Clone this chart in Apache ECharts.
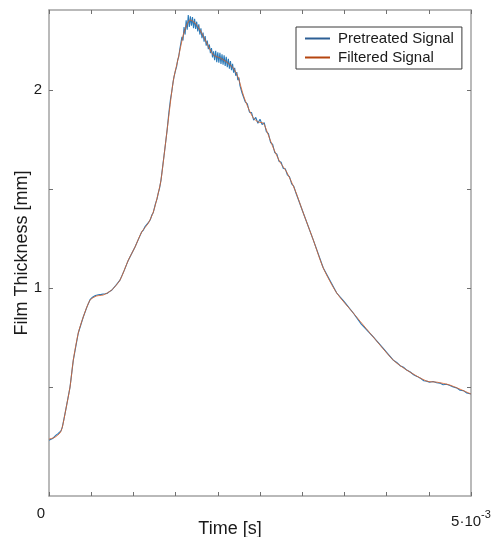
<!DOCTYPE html>
<html>
<head>
<meta charset="utf-8">
<script src="https://cdn.jsdelivr.net/npm/echarts@6/dist/echarts.min.js"></script>
<style>
  html, body { margin: 0; padding: 0; background: #ffffff; }
  #chart { width: 496px; height: 537px; }
</style>
</head>
<body>
<div id="chart"></div>
<script>
// Time axis in milliseconds (converted to seconds when plotted)
var filteredTimeMs = [
  0.000, 0.071, 0.130, 0.158, 0.198, 0.249, 0.288, 0.347, 0.406, 0.486,
  0.565, 0.643, 0.743, 0.841, 0.940, 1.019, 1.098, 1.177, 1.236, 1.295,
  1.327, 1.374, 1.454, 1.481, 1.532, 1.591, 1.632, 1.671, 1.730, 1.789,
  1.869, 1.947, 2.026, 2.105, 2.184, 2.243, 2.302, 2.361, 2.421, 2.480,
  2.539, 2.598, 2.658, 2.737, 2.816, 2.915, 3.013, 3.132, 3.250, 3.409,
  3.605, 3.842, 4.079, 4.238, 4.475, 4.593, 4.751, 5.000
];
// Filtered film thickness [mm]
var filteredValue = [
  0.237, 0.247, 0.268, 0.298, 0.384, 0.500, 0.636, 0.773, 0.854, 0.939,
  0.960, 0.965, 0.990, 1.040, 1.141, 1.207, 1.283, 1.328, 1.384, 1.480,
  1.545, 1.707, 1.990, 2.066, 2.162, 2.278, 2.328, 2.354, 2.338, 2.303,
  2.237, 2.177, 2.162, 2.141, 2.111, 2.061, 1.975, 1.909, 1.859, 1.838,
  1.833, 1.773, 1.707, 1.636, 1.586, 1.495, 1.379, 1.242, 1.101, 0.975,
  0.874, 0.753, 0.636, 0.586, 0.530, 0.525, 0.510, 0.465
];

// Pretreated (unfiltered) signal, time [ms]
var pretreatedTimeMs = [
  0.000, 0.012, 0.024, 0.036, 0.048, 0.060, 0.071, 0.083, 0.095, 0.107,
  0.119, 0.130, 0.142, 0.158, 0.198, 0.249, 0.288, 0.347, 0.406, 0.450,
  0.486, 0.510, 0.530, 0.550, 0.565, 0.585, 0.600, 0.620, 0.643, 0.665,
  0.690, 0.715, 0.743, 0.790, 0.841, 0.890, 0.940, 1.019, 1.060, 1.098,
  1.120, 1.140, 1.160, 1.177, 1.200, 1.220, 1.236, 1.260, 1.280, 1.295,
  1.310, 1.327, 1.350, 1.374, 1.400, 1.420, 1.440, 1.454, 1.470, 1.481,
  1.500, 1.512, 1.525, 1.537, 1.550, 1.5625, 1.575, 1.5875, 1.600, 1.6125,
  1.625, 1.6375, 1.650, 1.6625, 1.675, 1.6875, 1.700, 1.7125, 1.725, 1.7375,
  1.750, 1.7625, 1.775, 1.7875, 1.800, 1.8125, 1.825, 1.8375, 1.850, 1.8625,
  1.875, 1.8875, 1.900, 1.9125, 1.925, 1.9375, 1.950, 1.9625, 1.975, 1.9875,
  2.000, 2.0125, 2.025, 2.0375, 2.050, 2.0625, 2.075, 2.0875, 2.100, 2.1125,
  2.125, 2.1375, 2.150, 2.1625, 2.175, 2.1875, 2.200, 2.2125, 2.225, 2.2375,
  2.250, 2.2625, 2.275, 2.2875, 2.300, 2.325, 2.350, 2.375, 2.400, 2.425,
  2.450, 2.475, 2.500, 2.525, 2.550, 2.575, 2.600, 2.625, 2.650, 2.675,
  2.700, 2.725, 2.750, 2.775, 2.800, 2.825, 2.850, 2.875, 2.900, 2.925,
  3.013, 3.132, 3.250, 3.409, 3.500, 3.605, 3.700, 3.842, 3.950, 4.079,
  4.120, 4.160, 4.200, 4.238, 4.280, 4.320, 4.360, 4.400, 4.440, 4.475,
  4.510, 4.550, 4.593, 4.630, 4.670, 4.710, 4.751, 4.790, 4.830, 4.870,
  4.910, 4.950, 5.000
];
// Pretreated film thickness [mm]
var pretreatedValue = [
  0.232, 0.241, 0.236, 0.246, 0.242, 0.252, 0.246, 0.257, 0.254, 0.265,
  0.262, 0.272, 0.279, 0.298, 0.384, 0.500, 0.636, 0.773, 0.854, 0.905,
  0.941, 0.952, 0.956, 0.962, 0.958, 0.966, 0.961, 0.968, 0.963, 0.971,
  0.973, 0.982, 0.989, 1.013, 1.040, 1.088, 1.141, 1.207, 1.247, 1.283,
  1.294, 1.312, 1.318, 1.330, 1.345, 1.370, 1.382, 1.424, 1.450, 1.481,
  1.505, 1.545, 1.625, 1.707, 1.800, 1.885, 1.955, 1.990, 2.040, 2.066,
  2.100, 2.118, 2.152, 2.168, 2.207, 2.205, 2.268, 2.250, 2.318, 2.280,
  2.352, 2.305, 2.378, 2.318, 2.372, 2.325, 2.368, 2.312, 2.360, 2.308,
  2.345, 2.296, 2.332, 2.280, 2.312, 2.262, 2.290, 2.244, 2.272, 2.224,
  2.250, 2.206, 2.230, 2.186, 2.212, 2.165, 2.195, 2.150, 2.198, 2.140,
  2.190, 2.138, 2.188, 2.132, 2.180, 2.128, 2.175, 2.122, 2.168, 2.115,
  2.158, 2.108, 2.146, 2.100, 2.132, 2.088, 2.112, 2.072, 2.090, 2.050,
  2.063, 2.022, 2.026, 1.985, 1.990, 1.940, 1.930, 1.888, 1.886, 1.848,
  1.862, 1.832, 1.852, 1.826, 1.835, 1.790, 1.780, 1.735, 1.725, 1.684,
  1.676, 1.640, 1.635, 1.604, 1.602, 1.571, 1.561, 1.526, 1.514, 1.481,
  1.379, 1.242, 1.101, 0.975, 0.930, 0.874, 0.818, 0.753, 0.700, 0.636,
  0.624, 0.608, 0.600, 0.586, 0.576, 0.562, 0.554, 0.545, 0.532, 0.530,
  0.524, 0.528, 0.522, 0.520, 0.512, 0.514, 0.508, 0.500, 0.496, 0.484,
  0.482, 0.470, 0.465
];

var seriesNames = ['Pretreated Signal', 'Filtered Signal'];
var yTickValues = [0.5, 1, 1.5, 2];
var yLabelValues = [1, 2];

function toPairs(timesMs, values) {
  return timesMs.map(function (t, i) { return [t * 1e-3, values[i]]; });
}

var axisGray = '#a3a3a3';
var textColor = '#1a1a1a';
var fontFamily = 'Liberation Sans, Arial, sans-serif';

var chart = echarts.init(document.getElementById('chart'), null, { renderer: 'canvas' });

var boxAxisX = {
  type: 'value', min: 0, max: 0.005, interval: 0.0005,
  axisLine: { show: true, onZero: false, lineStyle: { color: axisGray, width: 1.5 } },
  axisTick: { show: true, inside: true, length: 4, lineStyle: { color: '#707070', width: 1 } },
  splitLine: { show: false }
};
var boxAxisY = {
  type: 'value', min: -0.05, max: 2.404,
  axisLine: { show: true, onZero: false, lineStyle: { color: axisGray, width: 1.5 } },
  axisTick: { show: true, inside: true, length: 4, customValues: yTickValues, lineStyle: { color: '#707070', width: 1 } },
  splitLine: { show: false }
};

chart.setOption({
  animation: false,
  backgroundColor: '#ffffff',
  textStyle: { fontFamily: fontFamily },
  grid: { left: 49, right: 25, top: 10, bottom: 41, containLabel: false, outerBoundsMode: 'none' },
  legend: {
    orient: 'vertical',
    left: 296, top: 27,
    padding: [4, 8, 4, 9],
    itemGap: 4,
    itemWidth: 25, itemHeight: 2,
    icon: 'rect',
    backgroundColor: '#ffffff',
    borderColor: '#3a3a3a', borderWidth: 1,
    textStyle: { fontSize: 15, color: textColor, fontFamily: fontFamily, padding: [0, 0, 0, 3] },
    data: [
      { name: seriesNames[0], itemStyle: { color: '#2d5f95' } },
      { name: seriesNames[1], itemStyle: { color: '#b5450f' } }
    ]
  },
  xAxis: [
    Object.assign({}, boxAxisX, {
      position: 'bottom',
      name: 'Time [s]', nameLocation: 'middle', nameGap: 24, nameMoveOverlap: false,
      nameTextStyle: { fontSize: 18, color: textColor, padding: [0, 60, 0, 0] },
      axisLabel: {
        show: true, margin: 10, color: textColor, fontSize: 15,
        customValues: [0, 0.005],
        formatter: function (v) {
          if (v === 0) return '{z|0}';
          return '{a|5·10}{s|-3}';
        },
        rich: {
          z: { fontSize: 15, color: textColor, padding: [0, 16, 0, 0] },
          a: { fontSize: 15, color: textColor, padding: [8, 0, 0, 0] },
          s: { fontSize: 11, color: textColor, padding: [0, 0, 6, 0] }
        }
      }
    }),
    Object.assign({}, boxAxisX, { position: 'top', axisLabel: { show: false } })
  ],
  yAxis: [
    Object.assign({}, boxAxisY, {
      position: 'left',
      name: 'Film Thickness [mm]', nameLocation: 'middle', nameGap: 18, nameMoveOverlap: false,
      nameTextStyle: { fontSize: 18, color: textColor },
      axisLabel: { show: true, margin: 7, color: textColor, fontSize: 15, customValues: yLabelValues }
    }),
    Object.assign({}, boxAxisY, { position: 'right', axisLabel: { show: false } })
  ],
  series: [
    {
      name: seriesNames[0], type: 'line', xAxisIndex: 0, yAxisIndex: 0,
      showSymbol: false, symbol: 'none', z: 2,
      color: '#2a7ab9',
      lineStyle: { color: '#2a7ab9', width: 1.1 },
      data: toPairs(pretreatedTimeMs, pretreatedValue)
    },
    {
      name: seriesNames[1], type: 'line', xAxisIndex: 0, yAxisIndex: 0,
      showSymbol: false, symbol: 'none', z: 3, smooth: 0.25,
      color: '#d9632b',
      lineStyle: { color: '#d9632b', width: 1, opacity: 0.85 },
      data: toPairs(filteredTimeMs, filteredValue)
    }
  ]
});
</script>
</body>
</html>
